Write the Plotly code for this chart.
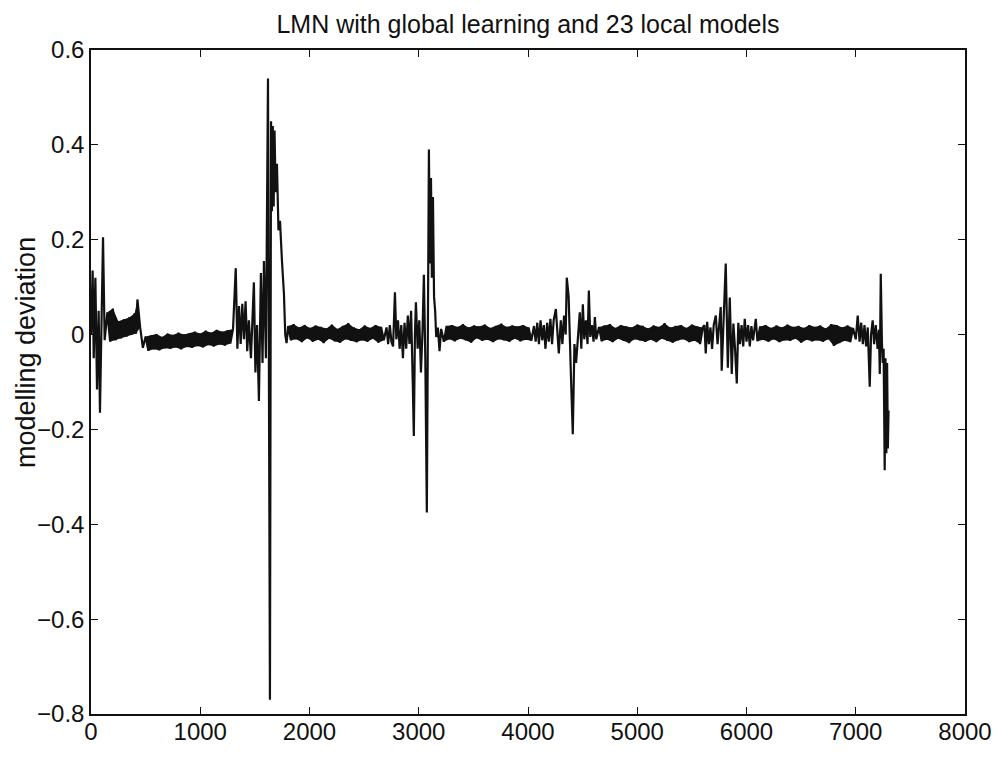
import plotly.graph_objects as go

# ---- data (sample index vs. modelling deviation) ----
start_x = [0, 15, 25, 40, 55, 70, 82, 95, 110, 125]
start_y = [0.0, 0.135, -0.05, 0.12, -0.116, 0.05, -0.165, -0.02, 0.205, -0.012]

quiet1_x = [150, 175, 200, 225, 250, 275, 300, 325, 350, 375, 400, 412, 425, 450, 475]
quiet1_y = [0.047, -0.015, 0.055, -0.012, 0.028, -0.008, 0.032, -0.004, 0.036, 0.0,
            0.045, 0.002, 0.074, 0.015, -0.028]

quiet2_start = 500
quiet2_y = [-0.004, -0.034, -0.002, -0.031, 0.001, -0.033, -0.005, -0.029, 0.002, -0.030,
            -0.001, -0.027, 0.004, -0.031, 0.000, -0.026, 0.003, -0.028, 0.006, -0.024,
            0.002, -0.027, 0.008, -0.022, 0.004, -0.025, 0.010, -0.021, 0.006, -0.023,
            0.009, -0.019, 0.012]

burst1_x = [1325, 1340, 1355, 1370, 1385, 1400, 1415, 1430, 1445, 1464,
            1478, 1491, 1505, 1520, 1537, 1546, 1555, 1570, 1583, 1601,
            1620, 1638, 1648, 1656, 1664, 1672, 1680, 1690, 1702, 1716,
            1730, 1748, 1766, 1778, 1790]
burst1_y = [0.14, -0.03, 0.06, -0.02, 0.065, -0.01, 0.07, -0.035, 0.03, -0.05,
            0.04, 0.11, -0.08, 0.02, -0.14, 0.05, 0.13, -0.06, 0.155, -0.05,
            0.54, -0.77, 0.45, 0.26, 0.44, 0.27, 0.43, 0.3, 0.36, 0.22,
            0.24, 0.155, 0.086, 0.0, -0.018]

quiet3_start = 1805
quiet3_y = [0.018, -0.012, 0.022, -0.010, 0.015, -0.016, 0.020, -0.008, 0.014, -0.015,
            0.019, -0.011, 0.016, -0.018, 0.013, -0.009, 0.021, -0.014, 0.012, -0.017,
            0.018, -0.010, 0.024, -0.013, 0.015, -0.016, 0.011, -0.012, 0.019, -0.015,
            0.014, -0.009, 0.020, -0.017, 0.016, -0.012]

burst2_x = [2705, 2720, 2735, 2750, 2765, 2782, 2795, 2810, 2825, 2840,
            2855, 2870, 2885, 2900, 2915, 2930, 2945, 2955, 2965, 2974,
            2990, 3005, 3020, 3035, 3047, 3060, 3074, 3084, 3093, 3102,
            3112, 3120, 3130, 3140, 3150, 3160, 3175, 3190, 3205]
burst2_y = [0.015, -0.02, 0.02, -0.015, -0.025, 0.089, -0.01, 0.03, -0.03, 0.02,
            -0.05, 0.025, -0.03, 0.04, -0.02, 0.05, -0.1, -0.214, 0.0, 0.068,
            -0.03, 0.03, -0.08, 0.01, 0.126, -0.05, -0.375, 0.1, 0.39, 0.15,
            0.33, 0.12, 0.29, 0.08, 0.05, -0.005, 0.015, -0.035, 0.012]

quiet4_start = 3230
quiet4_y = [-0.015, 0.018, -0.010, 0.020, -0.014, 0.016, -0.009, 0.022, -0.012, 0.015,
            -0.017, 0.019, -0.008, 0.017, -0.013, 0.021, -0.011, 0.014, -0.016, 0.018,
            -0.010, 0.023, -0.012, 0.016, -0.015, 0.019, -0.009, 0.017, -0.014, 0.020,
            -0.011, 0.015, -0.013]

burst3_x = [4055, 4070, 4085, 4100, 4115, 4130, 4145, 4160, 4175, 4190,
            4205, 4220, 4235, 4255, 4270, 4282, 4300, 4315, 4330, 4345,
            4355, 4372, 4392, 4410, 4425, 4440, 4456, 4474, 4488, 4502,
            4515, 4530, 4545, 4557, 4570, 4585, 4600, 4612, 4625]
burst3_y = [0.018, -0.015, 0.025, -0.02, 0.03, -0.012, 0.02, -0.03, 0.025, -0.015,
            0.033, -0.02, 0.03, 0.054, -0.01, -0.04, 0.03, -0.02, 0.04, 0.0,
            0.12, 0.08, -0.08, -0.21, -0.02, -0.06, -0.01, 0.047, -0.03, 0.064,
            -0.01, 0.03, -0.02, 0.093, -0.005, 0.02, -0.015, 0.037, -0.01]

quiet5_start = 4650
quiet5_y = [0.016, -0.014, 0.019, -0.011, 0.022, -0.016, 0.014, -0.009, 0.020, -0.013,
            0.017, -0.018, 0.015, -0.010, 0.021, -0.012, 0.018, -0.015, 0.013, -0.011,
            0.019, -0.016, 0.016, -0.009, 0.024, -0.013, 0.015, -0.017, 0.018, -0.012,
            0.020, -0.010, 0.014, -0.016, 0.021, -0.013, 0.017, -0.020, 0.015]

burst4_x = [5615, 5627, 5640, 5655, 5670, 5685, 5700, 5719, 5735, 5750,
            5764, 5773, 5790, 5810, 5829, 5847, 5865, 5880, 5895, 5911,
            5925, 5940, 5955, 5970, 5984, 6000, 6015, 6030, 6045, 6060, 6085]
burst4_y = [0.02, -0.04, 0.027, -0.02, 0.015, -0.03, 0.02, 0.04, -0.02, 0.03,
            0.058, -0.076, 0.03, 0.15, -0.07, 0.078, -0.083, 0.023, -0.03, -0.103,
            0.025, -0.02, 0.02, -0.025, 0.033, -0.015, 0.02, -0.025, 0.018, -0.012, 0.033]

quiet6_start = 6100
quiet6_y = [-0.014, 0.017, -0.011, 0.020, -0.015, 0.014, -0.010, 0.019, -0.016, 0.015,
            -0.012, 0.021, -0.013, 0.016, -0.009, 0.018, -0.017, 0.014, -0.011, 0.020,
            -0.014, 0.016, -0.012, 0.019, -0.015, 0.013, -0.010, 0.022, -0.024, 0.020,
            -0.018, 0.015, -0.013, 0.019, -0.016, 0.014]

burst5_x = [7000, 7018, 7035, 7050, 7065, 7080, 7095, 7110, 7128, 7140,
            7155, 7168, 7183, 7200, 7212, 7220, 7229, 7240, 7247, 7255,
            7265, 7272, 7280, 7287, 7294, 7300]
burst5_y = [-0.01, 0.04, -0.015, 0.025, -0.02, 0.02, -0.025, 0.015, -0.11, 0.0,
            0.03, -0.02, 0.02, -0.03, 0.01, -0.083, 0.128, -0.02, -0.06, -0.03,
            -0.286, -0.05, -0.25, -0.06, -0.24, -0.16]

x_ticks = [0, 1000, 2000, 3000, 4000, 5000, 6000, 7000, 8000]
y_ticks = [-0.8, -0.6, -0.4, -0.2, 0, 0.2, 0.4, 0.6]
title_text = "LMN with global learning and 23 local models"
ylabel_text = "modelling deviation"

QUIET_STEP = 25


def quiet(start, ys):
    return [start + QUIET_STEP * i for i in range(len(ys))], list(ys)


quiet_segments = [
    (quiet1_x, quiet1_y),
    quiet(quiet2_start, quiet2_y),
    quiet(quiet3_start, quiet3_y),
    quiet(quiet4_start, quiet4_y),
    quiet(quiet5_start, quiet5_y),
    quiet(quiet6_start, quiet6_y),
]

xs, ys = [], []
for seg_x, seg_y in [
    (start_x, start_y),
    quiet_segments[0],
    quiet_segments[1],
    (burst1_x, burst1_y),
    quiet_segments[2],
    (burst2_x, burst2_y),
    quiet_segments[3],
    (burst3_x, burst3_y),
    quiet_segments[4],
    (burst4_x, burst4_y),
    quiet_segments[5],
    (burst5_x, burst5_y),
]:
    xs.extend(seg_x)
    ys.extend(seg_y)

FONT = "Liberation Sans, Arial, Helvetica, sans-serif"
INK = "#111111"

fig = go.Figure()

# solid noise band: envelope of the alternating peaks / troughs of each quiet stretch
for seg_x, seg_y in quiet_segments:
    ev_x, ev_y = seg_x[0::2], seg_y[0::2]
    od_x, od_y = seg_x[1::2], seg_y[1::2]
    if sum(ev_y) / len(ev_y) >= sum(od_y) / len(od_y):
        up_x, up_y, lo_x, lo_y = ev_x, ev_y, od_x, od_y
    else:
        up_x, up_y, lo_x, lo_y = od_x, od_y, ev_x, ev_y
    fig.add_trace(go.Scatter(
        x=up_x + lo_x[::-1], y=up_y + lo_y[::-1],
        mode="lines", fill="toself", fillcolor=INK,
        line=dict(width=0, color=INK), hoverinfo="skip", showlegend=False))

fig.add_trace(go.Scatter(x=xs, y=ys, mode="lines",
                         line=dict(color=INK, width=2.2),
                         hoverinfo="skip", showlegend=False))

axis_common = dict(
    showline=True, linecolor=INK, linewidth=1.5, mirror="ticks",
    ticks="inside", ticklen=7, tickwidth=1.3, tickcolor=INK,
    showgrid=False, zeroline=False,
    tickfont=dict(family=FONT, size=24, color=INK),
)

L, R, T, B = 83, 43, 42, 55
plot_w = 1000 - L - R
plot_h = 761 - T - B

fig.update_layout(
    width=1000, height=761,
    paper_bgcolor="white", plot_bgcolor="white",
    margin=dict(l=L, r=R, t=T, b=B),
    title=dict(text=title_text, x=0.5, xref="paper", xanchor="center",
               y=1 - 16 / 761, yanchor="middle", yref="container",
               font=dict(family=FONT, size=25, color=INK)),
    xaxis=dict(range=[0, 8000], tickvals=x_ticks, ticklabelstandoff=-5, **axis_common),
    yaxis=dict(range=[-0.8, 0.6], tickvals=y_ticks, **axis_common),
    annotations=[dict(text=ylabel_text, textangle=-90, xref="paper", yref="paper",
                      x=-(L - 18) / plot_w, y=1 - (345 - T) / plot_h,
                      xanchor="center", yanchor="middle",
                      showarrow=False,
                      font=dict(family=FONT, size=27, color=INK))],
)

fig.write_html("out.html")
